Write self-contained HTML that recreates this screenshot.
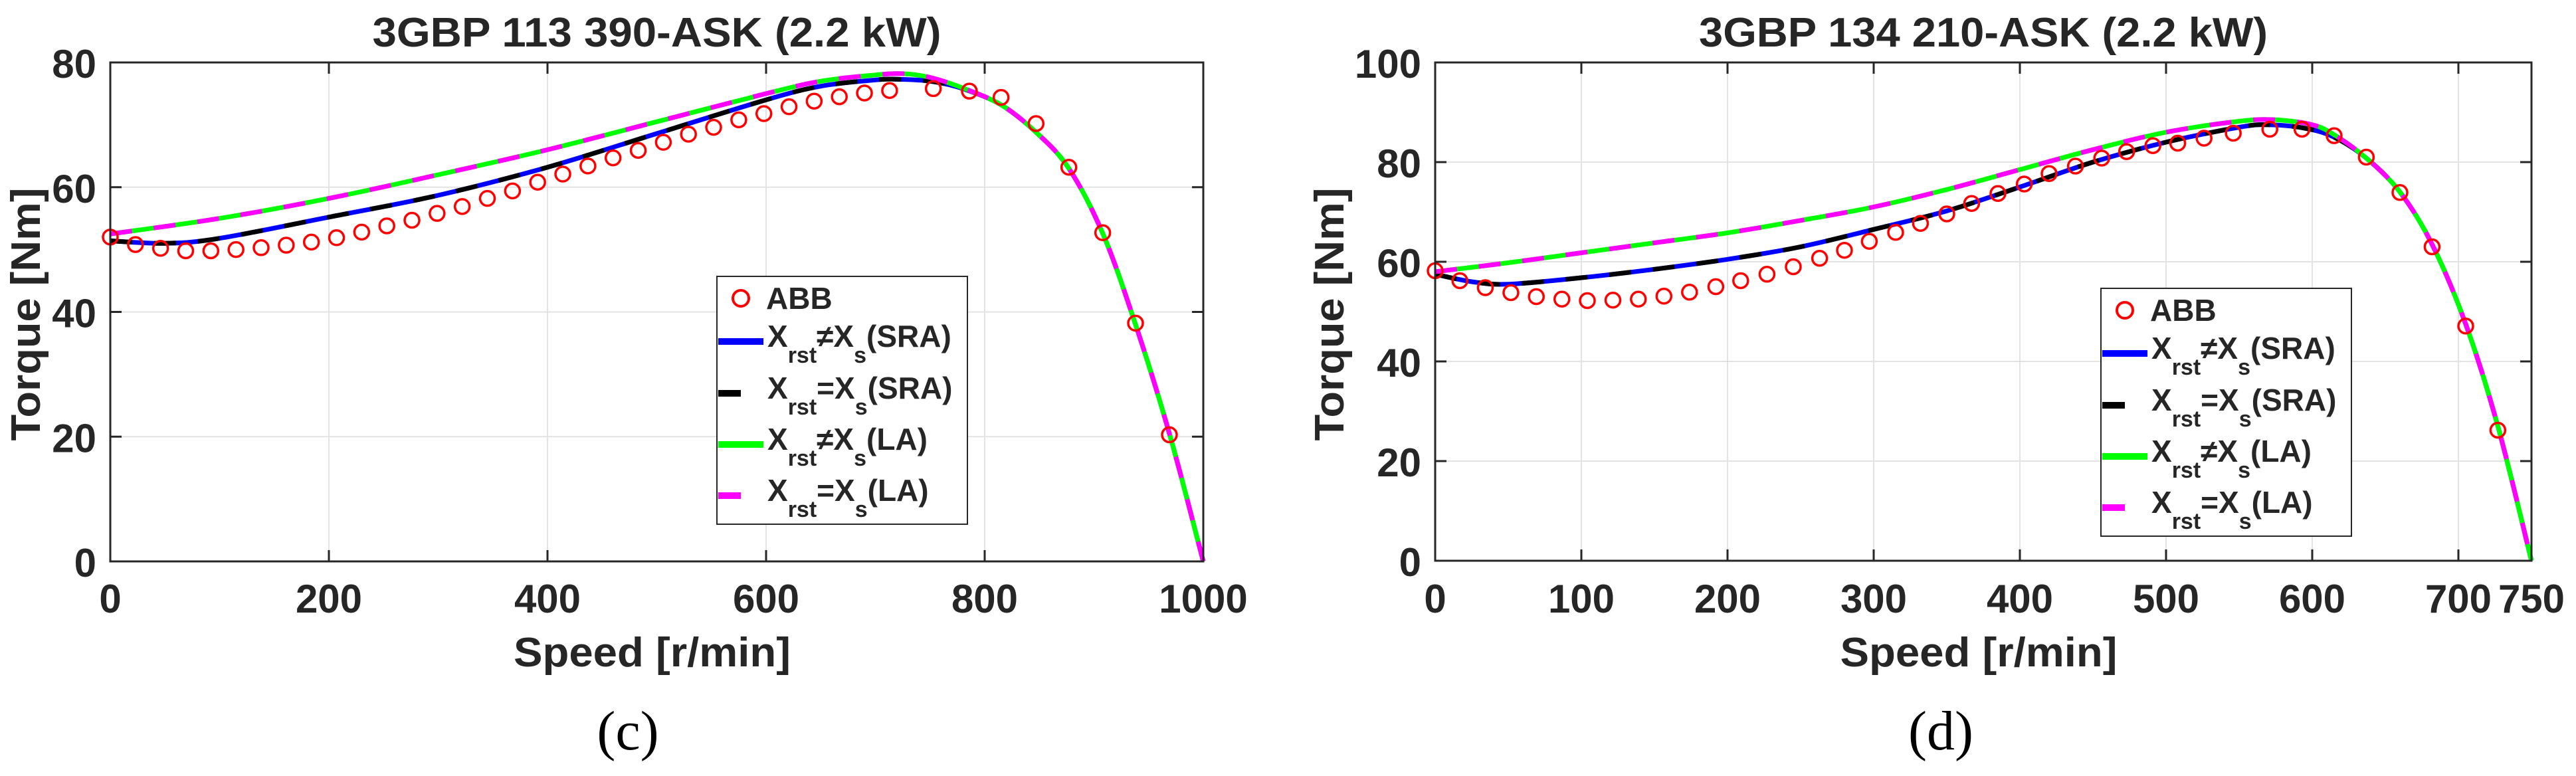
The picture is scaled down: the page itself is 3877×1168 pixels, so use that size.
<!DOCTYPE html>
<html><head><meta charset="utf-8"><style>
html,body{margin:0;padding:0;background:#fff;}
svg{display:block;}
text{font-family:"Liberation Sans",Arial,sans-serif;font-weight:bold;fill:#262626;}
</style></head><body>
<svg id="fig" width="3877" height="1168" viewBox="0 0 3877 1168" xmlns="http://www.w3.org/2000/svg"></svg>
<script>
// ---------- Panel (c) data ----------
const cTitle = "3GBP 113 390-ASK (2.2 kW)";
const cXTicks = [0,200,400,600,800,1000];
const cYTicks = [0,20,40,60,80];
const cAbbSpeed = [0,23,46,69,92,115,138,161,184,207,230,253,276,299,322,345,368,391,414,437,460,483,506,529,552,575,598,621,644,667,690,713,753,786,815,847,877,908,938,969];
const cAbbTorque = [52.0,50.8,50.2,49.8,49.8,50.0,50.3,50.7,51.2,51.9,52.8,53.8,54.7,55.8,56.9,58.2,59.4,60.8,62.1,63.4,64.7,65.9,67.2,68.5,69.6,70.8,71.8,72.9,73.8,74.5,75.1,75.5,75.8,75.4,74.4,70.2,63.2,52.7,38.2,20.3];
const cSraSpeed = [0,50,100,200,300,400,500,600,650,700,720,750,780,815,847,877,908,938,969,1000];
const cSraTorque = [51.4,51.0,51.8,55.2,58.7,63.2,68.6,74.0,76.2,77.2,77.3,77.0,75.8,73.2,68.8,63.0,52.6,38.0,20.5,0];
const cLaSpeed = [0,100,200,300,400,500,600,650,700,725,750,780,815,847,877,908,938,969,1000];
const cLaTorque = [52.5,55.0,58.2,62.0,66.0,70.5,75.0,77.0,78.0,78.2,77.6,75.9,73.2,68.8,63.0,52.6,38.0,20.5,0];

// ---------- Panel (d) data ----------
const dTitle = "3GBP 134 210-ASK (2.2 kW)";
const dXTicks = [0,100,200,300,400,500,600,700,750];
const dYTicks = [0,20,40,60,80,100];
const dAbbSpeed = [0,16.9,34.3,51.8,69.2,86.7,104.1,121.6,139,156.5,174,192,209,227,245,263,280,297,315,332,350,367,385,403,420,438,456,473,491,508,526,546,571,593,615,637,660,682,705,727];
const dAbbTorque = [58.2,56.2,54.8,53.8,53.0,52.5,52.2,52.3,52.5,53.1,53.9,55.0,56.2,57.5,59.0,60.7,62.3,64.1,65.9,67.7,69.6,71.7,73.7,75.6,77.7,79.2,80.8,82.1,83.3,83.8,84.8,85.8,86.6,86.6,85.3,81.0,73.9,63.0,47.1,26.2];
const dSraSpeed = [0,25,50,100,150,200,250,300,350,400,450,500,550,570,595,615,637,660,682,705,727,750];
const dSraTorque = [57.5,56.0,55.5,56.8,58.5,60.5,63.0,66.5,70.2,75.0,80.0,84.0,87.0,87.5,86.8,85.0,80.8,74.0,63.5,47.5,27.0,0];
const dLaSpeed = [0,50,100,150,200,250,300,350,400,450,500,550,575,600,615,637,660,682,705,727,750];
const dLaTorque = [58.0,59.8,61.8,63.8,65.8,68.3,71.0,74.5,78.5,82.5,86.0,88.2,88.5,87.5,85.5,80.8,74.0,63.5,47.5,27.0,0];

const legendLabels = ["ABB","≠(SRA)","=(SRA)","≠(LA)","=(LA)"];

const NS = "http://www.w3.org/2000/svg";
const svg = document.getElementById('fig');
function mk(tag, attrs, parent){
  const e = document.createElementNS(NS, tag);
  for (const k in attrs) e.setAttribute(k, attrs[k]);
  (parent||svg).appendChild(e);
  return e;
}
function smoothPath(pts){
  let d = "M"+pts[0][0].toFixed(1)+","+pts[0][1].toFixed(1);
  for (let i=0;i<pts.length-1;i++){
    const p0=pts[i-1]||pts[i], p1=pts[i], p2=pts[i+1], p3=pts[i+2]||p2;
    const c1x=p1[0]+(p2[0]-p0[0])/6, c1y=p1[1]+(p2[1]-p0[1])/6;
    const c2x=p2[0]-(p3[0]-p1[0])/6, c2y=p2[1]-(p3[1]-p1[1])/6;
    d+=" C"+c1x.toFixed(1)+","+c1y.toFixed(1)+" "+c2x.toFixed(1)+","+c2y.toFixed(1)+" "+p2[0].toFixed(1)+","+p2[1].toFixed(1);
  }
  return d;
}

function panel(cfg){
  const g = mk('g',{});
  
  
  const X = v => cfg.x0 + (v - 0)/(cfg.xmax) * (cfg.x1 - cfg.x0);
  const Y = v => cfg.y0 - v/cfg.ymax * (cfg.y0 - cfg.y1);
  cfg.xTicks.forEach(t=>{
    const l = mk('line',{x1:X(t),x2:X(t),y1:cfg.y1,y2:cfg.y0,stroke:'#e3e3e3','stroke-width':2},g);
    
    
  });
  cfg.yTicks.forEach(t=>{
    const l = mk('line',{x1:cfg.x0,x2:cfg.x1,y1:Y(t),y2:Y(t),stroke:'#e3e3e3','stroke-width':2},g);
    
    
  });
  const sraPts = cfg.sraS.map((s,i)=>[X(s),Y(cfg.sraT[i])]);
  const laPts = cfg.laS.map((s,i)=>[X(s),Y(cfg.laT[i])]);
  const blue = mk('path',{d:smoothPath(sraPts),fill:'none',stroke:'#0000ff','stroke-width':7},g);
  
  
  const black = mk('path',{d:smoothPath(sraPts),fill:'none',stroke:'#000','stroke-width':7,'stroke-dasharray':'33 33'},g);
  
  
  const green = mk('path',{d:smoothPath(laPts),fill:'none',stroke:'#00ff00','stroke-width':7},g);
  
  
  const mag = mk('path',{d:smoothPath(laPts),fill:'none',stroke:'#ff00ff','stroke-width':7,'stroke-dasharray':'33 33'},g);
  
  
  cfg.abbS.forEach((s,i)=>{
    const c = mk('circle',{cx:X(s),cy:Y(cfg.abbT[i]),r:11,fill:'none',stroke:'#ff0000','stroke-width':3.5},g);
    
    
  });
  const box = mk('rect',{x:cfg.x0,y:cfg.y1,width:cfg.x1-cfg.x0,height:cfg.y0-cfg.y1,fill:'none',stroke:'#262626','stroke-width':3},g);
  
  
  cfg.xTicks.forEach(t=>{
    mk('line',{x1:X(t),x2:X(t),y1:cfg.y0,y2:cfg.y0-17,stroke:'#262626','stroke-width':3},g);
    mk('line',{x1:X(t),x2:X(t),y1:cfg.y1,y2:cfg.y1+17,stroke:'#262626','stroke-width':3},g);
    const tx = mk('text',{x:X(t),y:922,'text-anchor':'middle','font-size':60},g);
    tx.textContent = t;
    
    
  });
  cfg.yTicks.forEach(t=>{
    mk('line',{x1:cfg.x0,x2:cfg.x0+17,y1:Y(t),y2:Y(t),stroke:'#262626','stroke-width':3},g);
    mk('line',{x1:cfg.x1,x2:cfg.x1-17,y1:Y(t),y2:Y(t),stroke:'#262626','stroke-width':3},g);
    const tx = mk('text',{x:cfg.x0-21,y:Y(t)+23,'text-anchor':'end','font-size':60},g);
    tx.textContent = t;
    
    
  });
  const cx = (cfg.x0+cfg.x1)/2;
  const ti = mk('text',{x:cx,y:70,'text-anchor':'middle','font-size':62,fill:'#000',textLength:856,lengthAdjust:'spacingAndGlyphs'},g);
  ti.textContent = cfg.title;
  
  
  const xl = mk('text',{x:cx-7,y:1003,'text-anchor':'middle','font-size':62,textLength:417,lengthAdjust:'spacingAndGlyphs'},g);
  xl.textContent = "Speed [r/min]";
  
  
  const yl = mk('text',{x:0,y:0,'text-anchor':'middle','font-size':62,textLength:381,lengthAdjust:'spacingAndGlyphs',transform:'translate('+cfg.ylx+',473) rotate(-90)'},g);
  yl.textContent = "Torque [Nm]";
  
  
  const cap = mk('text',{x:cfg.capx,y:1128,'text-anchor':'middle','font-size':84,style:'font-family:"Liberation Serif",serif;font-weight:normal;fill:#000'},g);
  cap.textContent = cfg.caption;
  
  
  const lx = cfg.lx, ly = cfg.ly;
  const lg = mk('g',{},g);
  
  
  mk('rect',{x:lx,y:ly,width:377,height:373,fill:'#fff',stroke:'#262626','stroke-width':2},lg);
  const rows = [33,98,176,253,330];
  const colors = ['#ff0000','#0000ff','#000','#00ff00','#ff00ff'];
  rows.forEach((ry,i)=>{
    const e = mk('g',{},lg);
    
    
    if(i===0){
      mk('circle',{cx:lx+36,cy:ly+ry,r:12,fill:'none',stroke:'#ff0000','stroke-width':4},e);
      const t = mk('text',{x:lx+74,y:ly+ry+16,'font-size':46,fill:'#000'},e);
      t.textContent = legendLabels[0];
    } else {
      if(i===1||i===3) mk('line',{x1:lx+2,x2:lx+70,y1:ly+ry,y2:ly+ry,stroke:colors[i],'stroke-width':10},e);
      else mk('line',{x1:lx+2,x2:lx+36,y1:ly+ry,y2:ly+ry,stroke:colors[i],'stroke-width':10},e);
      const t = mk('text',{x:lx+76,y:ly+ry+8,'font-size':46,fill:'#000'},e);
      const lab = legendLabels[i];
      const rel = lab[0]; const rest = lab.slice(1);
      const a = mk('tspan',{},t); a.textContent='X';
      const b = mk('tspan',{dy:24,'font-size':34},t); b.textContent='rst';
      const c = mk('tspan',{dy:-24},t); c.textContent=rel+'X';
      const d = mk('tspan',{dy:24,'font-size':34},t); d.textContent='s';
      const f = mk('tspan',{dy:-24},t); f.textContent=rest;
    }
  });
}

panel({name:'panel-c',title:cTitle,caption:'(c)',x0:166,x1:1811,y0:845,y1:94,xmax:1000,ymax:80,
  xTicks:cXTicks,yTicks:cYTicks,abbS:cAbbSpeed,abbT:cAbbTorque,sraS:cSraSpeed,sraT:cSraTorque,laS:cLaSpeed,laT:cLaTorque,
  ylx:60,capx:945,lx:1079,ly:416});
panel({name:'panel-d',title:dTitle,caption:'(d)',x0:2160,x1:3810,y0:844,y1:94,xmax:750,ymax:100,
  xTicks:dXTicks,yTicks:dYTicks,abbS:dAbbSpeed,abbT:dAbbTorque,sraS:dSraSpeed,sraT:dSraTorque,laS:dLaSpeed,laT:dLaTorque,
  ylx:2022,capx:2921,lx:3162,ly:434});
</script>
</body></html>
